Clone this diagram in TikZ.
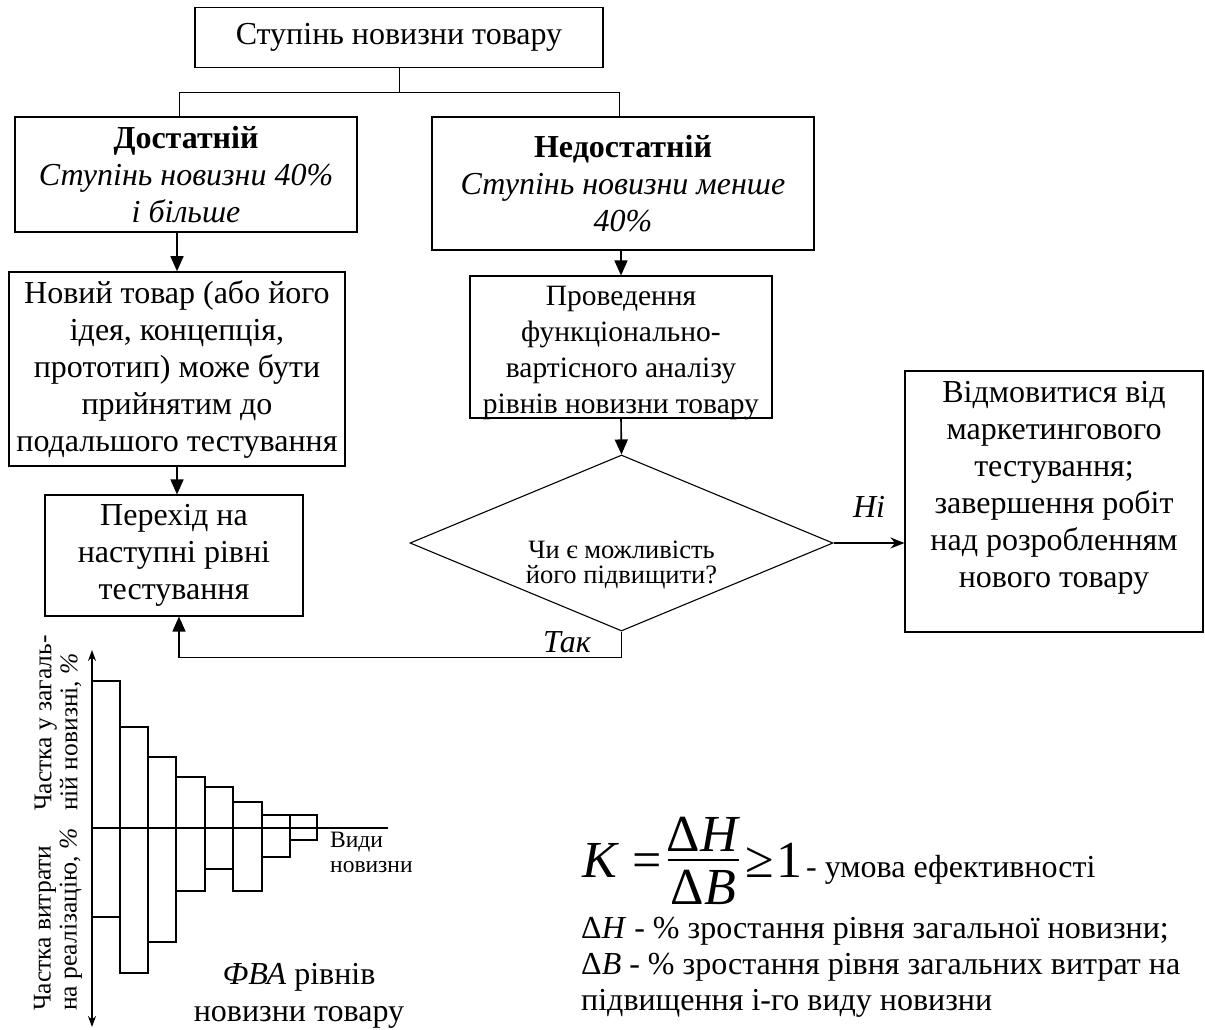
\documentclass[tikz,border=0pt]{standalone}
\usepackage{fontspec}
\setmainfont{Liberation Serif}
\usetikzlibrary{arrows.meta,shapes.geometric}
\newcommand\bodyfont{\fontsize{32}{37}\selectfont}
\newcommand\analysisfont{\fontsize{29.5}{36}\selectfont}
\newcommand\askfont{\fontsize{26.5}{25}\selectfont}
\newcommand\axisfont{\fontsize{25.5}{26}\selectfont}
\newcommand\kindsfont{\fontsize{23.5}{25}\selectfont}
\newcommand\formulafont{\fontsize{52}{60}\selectfont}
\newcommand\condfont{\fontsize{32}{34}\selectfont}

\begin{document}
\begin{tikzpicture}[x=1pt,y=-1pt,
  box/.style={draw, line width=1.6pt, inner sep=0pt, align=center, font=\bodyfont},
  thinbox/.style={draw, line width=1.1pt, inner sep=0pt, align=center, font=\bodyfont},
  link/.style={line width=1pt},
  arr/.style={line width=1.6pt, -{Triangle[length=15pt,width=13pt]}},
  sarr/.style={line width=1.6pt, -{Stealth[length=14pt,width=11pt]}},
  barline/.style={line width=1.1pt},
  plain/.style={inner sep=0pt}
]
\useasboundingbox (0,0) rectangle (1205,1029);

% flowchart boxes
\node[box, minimum width=408pt, minimum height=60pt] (top) at (399,37.5) {Ступінь новизни товару};
\node[box, minimum width=342pt, minimum height=115pt] (dost) at (186,174.5)
  {\textbf{Достатній}\\\textit{Ступінь новизни 40\%}\\\textit{і більше}};
\node[box, minimum width=382pt, minimum height=133pt] (nedost) at (623,183.5)
  {\textbf{Недостатній}\\\textit{Ступінь новизни менше}\\\textit{40\%}};
\node[box, minimum width=336pt, minimum height=194pt] (novyi) at (177,369)
  {Новий товар (або його\\ідея, концепція,\\прототип) може бути\\прийнятим до\\подальшого тестування};
\node[thinbox, minimum width=258pt, minimum height=121pt] (perehid) at (174,555.5)
  {Перехід на\\наступні рівні\\тестування};
\node[thinbox, minimum width=302pt, minimum height=142pt] (proved) at (621,347) {};
\node[font=\analysisfont, align=center, plain] (provedtext) at ([yshift=-6pt]proved.center)
  {Проведення\\функціонально-\\вартісного аналізу\\рівнів новизни товару};
\node[draw, line width=1.1pt, diamond, minimum width=423pt, minimum height=176pt, inner sep=0pt] (q) at (621.5,543) {};
\node[font=\askfont, align=center, plain] (qtext) at ([yshift=-22pt]q.center) {Чи є можливість\\його підвищити?};
\node[thinbox, minimum width=298pt, minimum height=261pt] (vidmova) at (1054,501.5) {};
\node[font=\bodyfont, align=center, plain] (vidmovatext) at ([yshift=14pt]vidmova.center)
  {Відмовитися від\\маркетингового\\тестування;\\завершення робіт\\над розробленням\\нового товару};

% connectors
\coordinate (split) at ([yshift=-24pt]top.south);
\draw[link] (top.south) -- (split);
\draw[link] (split) -| ([xshift=-7pt]dost.north);
\draw[link] (split) -| ([xshift=-4pt]nedost.north);
\draw[arr] (novyi.north |- dost.south) -- (novyi.north);
\draw[arr] (novyi.south) -- (novyi.south |- perehid.north);
\draw[arr] (proved.north |- nedost.south) -- (proved.north);
\draw[arr] (proved.south) -- (q.north);
\draw[sarr] (q.east) -- (q.east -| vidmova.west);
\node[font=\bodyfont\itshape, plain] (no) at (869,507) {Ні};
\draw[arr] (q.south) -- ++(0,26) -| ([xshift=5pt]perehid.south);
\node[font=\bodyfont\itshape, plain] (yes) at (567,642) {Так};

% functional-cost chart
\draw[line width=1.4pt, {Stealth[length=11pt,width=8pt]}-{Stealth[length=11pt,width=8pt]}] (92,650) -- (92,1027);
\draw[barline] (92,828) -- (388,828);
\foreach \xa/\xb/\ya/\yb in {92/120/681/917, 120/148/727/973, 148/176/757/942, 176/205/777/891,
                             205/233/787/869, 233/262/802/891, 262/290/815/857, 290/317/815/840}
  \draw[barline] (\xa,\ya) rectangle (\xb,\yb);
\node[font=\axisfont, align=left, rotate=90, anchor=west, plain] (shareup) at (58,811)
  {Частка у загаль-\\ній новизні, \textit{\%}};
\node[font=\axisfont, align=left, rotate=90, anchor=west, plain] (sharedown) at (58,1011)
  {Частка витрати\\на реалізацію, \textit{\%}};
\node[font=\kindsfont, align=left, anchor=north west, plain] (kinds) at (330,832) {Види\\новизни};
\node[font=\bodyfont, align=center, plain] (fva) at (299,996) {\textit{ФВА} рівнів\\новизни товару};

% efficiency condition
\node[font=\formulafont, anchor=east, plain] (fk) at (662,860) {\textit{K} =};
\coordinate (fa) at (668,860);
\coordinate (fb) at (739,860);
\draw[line width=2.6pt] (fa) -- (fb);
\node[font=\formulafont, anchor=south, plain] (fnum) at (703.5,852) {Δ\textit{H}};
\node[font=\formulafont, anchor=north, plain] (fden) at (703.5,870) {Δ\textit{B}};
\node[font=\formulafont, anchor=west, plain] (fge) at (745,860) {≥\hspace{3pt}1};
\node[font=\condfont, anchor=base west, plain] (fcond) at (806,877) {- умова ефективності};
\node[font=\bodyfont, anchor=base west, plain] (l1) at (581,938) {Δ\textit{H} - \% зростання рівня загальної новизни;};
\node[font=\bodyfont, anchor=base west, plain] (l2) at (581,974) {Δ\textit{B} - \% зростання рівня загальних витрат на};
\node[font=\bodyfont, anchor=base west, plain] (l3) at (581,1010) {підвищення і-го виду новизни};
\end{tikzpicture}
\end{document}
